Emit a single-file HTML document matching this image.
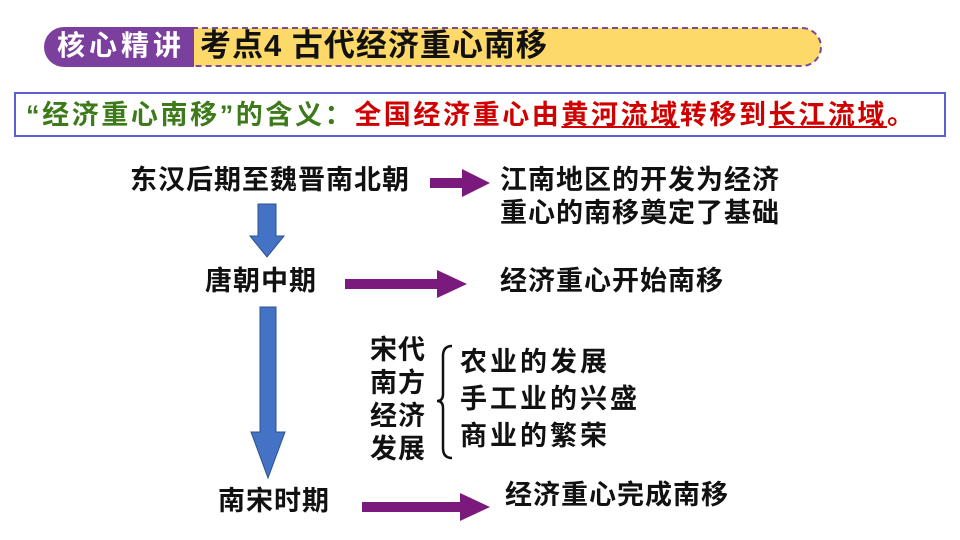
<!DOCTYPE html>
<html><head><meta charset="utf-8"><style>
body{margin:0;width:960px;height:540px;background:#fff;position:relative;overflow:hidden;font-family:"Liberation Sans","Noto Sans CJK SC",sans-serif;font-weight:bold}
.t{position:absolute;white-space:nowrap;font-size:27px;line-height:30px;color:#111;letter-spacing:1px}
svg{position:absolute;left:0;top:0}
</style></head><body>
<svg width="960" height="540">
<path d="M192 28 H802 A19 19 0 0 1 802 66 H192 Z" fill="#fcd968" stroke="#7a4a9c" stroke-width="2" stroke-dasharray="6 4"/>
<path d="M64 27 H194 V67 H64 A20 20 0 0 1 64 27 Z" fill="#7b3f9e"/>
<rect x="15" y="93" width="930" height="43" fill="none" stroke="#5b5fd0" stroke-width="2"/>
<polygon points="258,204 276,204 276,236 284,236 267,257 250,236 258,236" fill="#4472c4" stroke="#2f528f" stroke-width="1"/>
<polygon points="260,307 276,307 276,432 285,432 268,478 251,432 260,432" fill="#4472c4" stroke="#2f528f" stroke-width="1"/>
<polygon points="430,178 462,178 462,169 490,183 462,197 462,188 430,188" fill="#7b1a7d"/>
<polygon points="345,279 437,279 437,270 467,284 437,298 437,289 345,289" fill="#7b1a7d"/>
<polygon points="362,502 460,502 460,493 490,507 460,521 460,512 362,512" fill="#7b1a7d"/>
<path d="M452 346 Q443 346 443 356 V394 Q443 401 437 401 Q443 401 443 408 V448 Q443 458 452 458" fill="none" stroke="#111" stroke-width="2.5"/>
</svg>
<div class="t" style="left:57px;top:31px;color:#fff;font-size:28px;letter-spacing:4px">核心精讲</div>
<div class="t" style="left:200px;top:29px;font-size:31px;line-height:34px;letter-spacing:1px">考点4 古代经济重心南移</div>
<div class="t" style="left:26px;top:100px;letter-spacing:2.6px"><span style="color:#3c7a1a">“经济重心南移”的含义：</span><span style="color:#d00000">全国经济重心由<u>黄河流域</u>转移到<u>长江流域</u>。</span></div>
<div class="t" style="left:130px;top:165px">东汉后期至魏晋南北朝</div>
<div class="t" style="left:500px;top:165px">江南地区的开发为经济</div>
<div class="t" style="left:500px;top:198px">重心的南移奠定了基础</div>
<div class="t" style="left:205px;top:266px">唐朝中期</div>
<div class="t" style="left:500px;top:266px">经济重心开始南移</div>
<div class="t" style="left:370px;top:334px;line-height:33px">宋代<br>南方<br>经济<br>发展</div>
<div class="t" style="left:460px;top:344px;line-height:37px;letter-spacing:3px">农业的发展<br>手工业的兴盛<br>商业的繁荣</div>
<div class="t" style="left:218px;top:486px">南宋时期</div>
<div class="t" style="left:505px;top:480px">经济重心完成南移</div>
</body></html>
